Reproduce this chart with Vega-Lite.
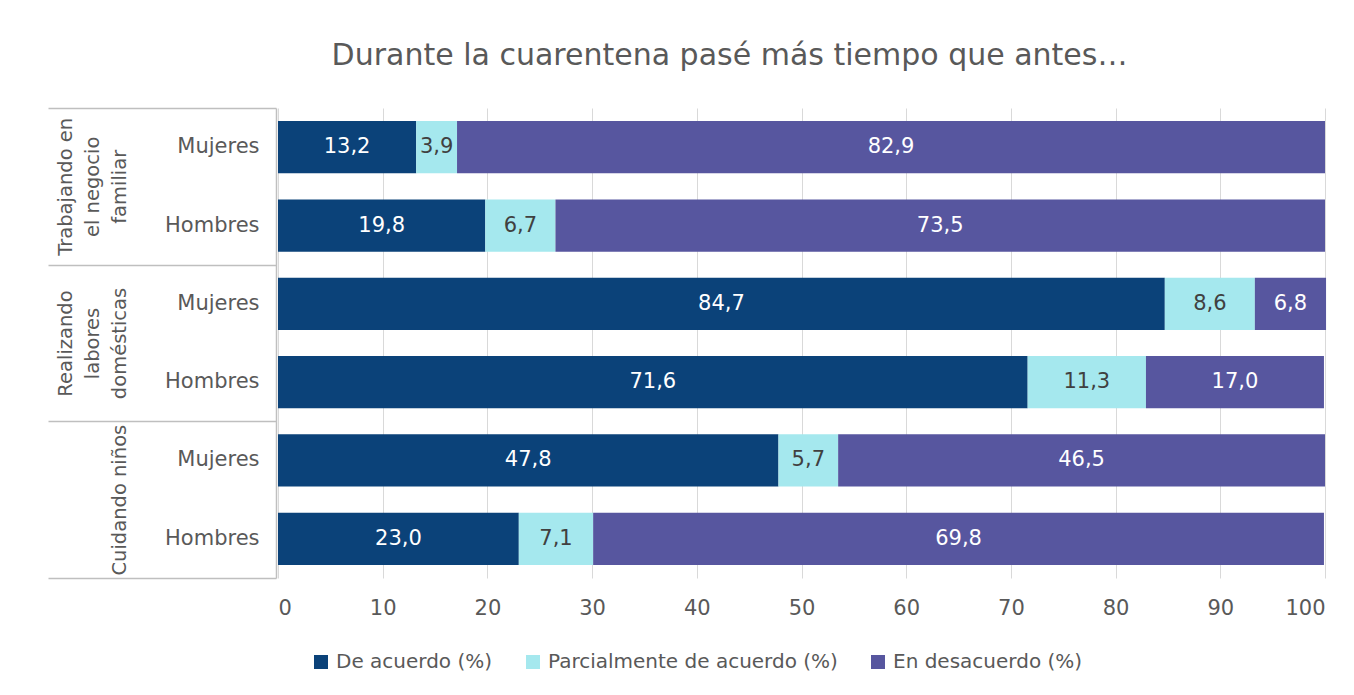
{
  "$schema": "https://vega.github.io/schema/vega-lite/v6.json",
  "width": 1047,
  "height": 470,
  "autosize": {"type": "none"},
  "padding": {"left": 278, "top": 108, "right": 29, "bottom": 117},
  "background": "white",
  "title": {
    "text": "Durante la cuarentena pasé más tiempo que antes…",
    "fontSize": 30,
    "fontWeight": "normal",
    "font": "DejaVu Sans",
    "color": "#595959",
    "anchor": "middle",
    "frame": "group",
    "dx": -72,
    "offset": 36
  },
  "config": {
    "font": "DejaVu Sans",
    "view": {"stroke": null},
    "locale": {"number": {"decimal": ",", "thousands": ".", "grouping": [3], "currency": ["", " €"]}}
  },
  "data": {
    "values": [
      {"grupo": "Trabajando en|el negocio|familiar", "fila": "T|Mujeres", "serie": "De acuerdo (%)", "k": 1, "valor": 13.2},
      {"grupo": "Trabajando en|el negocio|familiar", "fila": "T|Mujeres", "serie": "Parcialmente de acuerdo (%)", "k": 2, "valor": 3.9},
      {"grupo": "Trabajando en|el negocio|familiar", "fila": "T|Mujeres", "serie": "En desacuerdo (%)", "k": 3, "valor": 82.9},
      {"grupo": "Trabajando en|el negocio|familiar", "fila": "T|Hombres", "serie": "De acuerdo (%)", "k": 1, "valor": 19.8},
      {"grupo": "Trabajando en|el negocio|familiar", "fila": "T|Hombres", "serie": "Parcialmente de acuerdo (%)", "k": 2, "valor": 6.7},
      {"grupo": "Trabajando en|el negocio|familiar", "fila": "T|Hombres", "serie": "En desacuerdo (%)", "k": 3, "valor": 73.5},
      {"grupo": "Realizando|labores|domésticas", "fila": "R|Mujeres", "serie": "De acuerdo (%)", "k": 1, "valor": 84.7},
      {"grupo": "Realizando|labores|domésticas", "fila": "R|Mujeres", "serie": "Parcialmente de acuerdo (%)", "k": 2, "valor": 8.6},
      {"grupo": "Realizando|labores|domésticas", "fila": "R|Mujeres", "serie": "En desacuerdo (%)", "k": 3, "valor": 6.8},
      {"grupo": "Realizando|labores|domésticas", "fila": "R|Hombres", "serie": "De acuerdo (%)", "k": 1, "valor": 71.6},
      {"grupo": "Realizando|labores|domésticas", "fila": "R|Hombres", "serie": "Parcialmente de acuerdo (%)", "k": 2, "valor": 11.3},
      {"grupo": "Realizando|labores|domésticas", "fila": "R|Hombres", "serie": "En desacuerdo (%)", "k": 3, "valor": 17.0},
      {"grupo": "Cuidando niños", "fila": "C|Mujeres", "serie": "De acuerdo (%)", "k": 1, "valor": 47.8},
      {"grupo": "Cuidando niños", "fila": "C|Mujeres", "serie": "Parcialmente de acuerdo (%)", "k": 2, "valor": 5.7},
      {"grupo": "Cuidando niños", "fila": "C|Mujeres", "serie": "En desacuerdo (%)", "k": 3, "valor": 46.5},
      {"grupo": "Cuidando niños", "fila": "C|Hombres", "serie": "De acuerdo (%)", "k": 1, "valor": 23.0},
      {"grupo": "Cuidando niños", "fila": "C|Hombres", "serie": "Parcialmente de acuerdo (%)", "k": 2, "valor": 7.1},
      {"grupo": "Cuidando niños", "fila": "C|Hombres", "serie": "En desacuerdo (%)", "k": 3, "valor": 69.8}
    ]
  },
  "transform": [
    {"stack": "valor", "groupby": ["fila"], "sort": [{"field": "k", "order": "ascending"}], "as": ["v0", "v1"]},
    {"calculate": "(datum.v0 + datum.v1) / 2", "as": "centro"}
  ],
  "layer": [
    {
      "mark": {"type": "bar", "opacity": 0},
      "encoding": {
        "y": {
          "field": "grupo", "type": "nominal", "sort": null,
          "scale": {"type": "band", "paddingInner": 0, "paddingOuter": 0},
          "axis": {
            "orient": "left", "offset": 2, "title": null, "domain": false,
            "ticks": true, "tickBand": "extent", "tickSize": 228,
            "tickColor": "#bfbfbf", "tickWidth": 1.5, "grid": false,
            "labelAngle": 270, "labelAlign": "center", "labelBaseline": "bottom",
            "labelPadding": -27, "labelFontSize": 19.5, "labelLineHeight": 27,
            "labelColor": "#595959", "labelLimit": 300,
            "labelExpr": "indexof(datum.label, '|') < 0 ? ['\u200b', '\u200b', datum.label] : split(datum.label, '|')"
          }
        }
      }
    },
    {
      "layer": [
        {
          "mark": {"type": "bar"},
          "encoding": {
            "y": {
              "field": "fila", "type": "nominal", "sort": null,
              "scale": {"paddingInner": 0.333, "paddingOuter": 0.167},
              "axis": {
                "orient": "left", "offset": 2, "title": null, "ticks": false,
                "domain": true, "domainColor": "#bfbfbf", "domainWidth": 1.5,
                "grid": false, "labelPadding": 17, "labelFontSize": 21,
                "labelColor": "#595959", "labelExpr": "split(datum.label, '|')[1]"
              }
            },
            "x": {
              "field": "v0", "type": "quantitative",
              "scale": {"domain": [0, 100], "nice": false},
              "axis": {
                "values": [0, 10, 20, 30, 40, 50, 60, 70, 80, 90, 100],
                "format": "d", "title": null, "grid": true, "gridColor": "#d9d9d9",
                "gridWidth": 1, "domain": false, "ticks": false,
                "labelFontSize": 21, "labelColor": "#595959", "labelPadding": 19
              }
            },
            "x2": {"field": "v1"},
            "color": {
              "field": "serie", "type": "nominal", "sort": null,
              "scale": {
                "domain": ["De acuerdo (%)", "Parcialmente de acuerdo (%)", "En desacuerdo (%)"],
                "range": ["#0b4279", "#a5e8ee", "#57569f"]
              },
              "legend": {
                "orient": "none", "legendX": 33, "legendY": 544, "direction": "horizontal",
                "title": null, "symbolType": "square", "symbolSize": 196,
                "symbolStrokeWidth": 0, "labelFontSize": 20, "labelColor": "#595959",
                "columnPadding": 30, "labelOffset": 5, "labelLimit": 500
              }
            }
          }
        },
        {
          "mark": {"type": "text", "fontSize": 21, "align": "center", "baseline": "middle"},
          "encoding": {
            "y": {"field": "fila", "type": "nominal", "sort": null},
            "x": {"field": "centro", "type": "quantitative"},
            "text": {"field": "valor", "type": "quantitative", "format": ".1f"},
            "color": {"condition": {"test": "datum.k == 2", "value": "#404040"}, "value": "white"}
          }
        }
      ]
    }
  ],
  "resolve": {"scale": {"y": "independent"}, "axis": {"y": "independent"}}
}
